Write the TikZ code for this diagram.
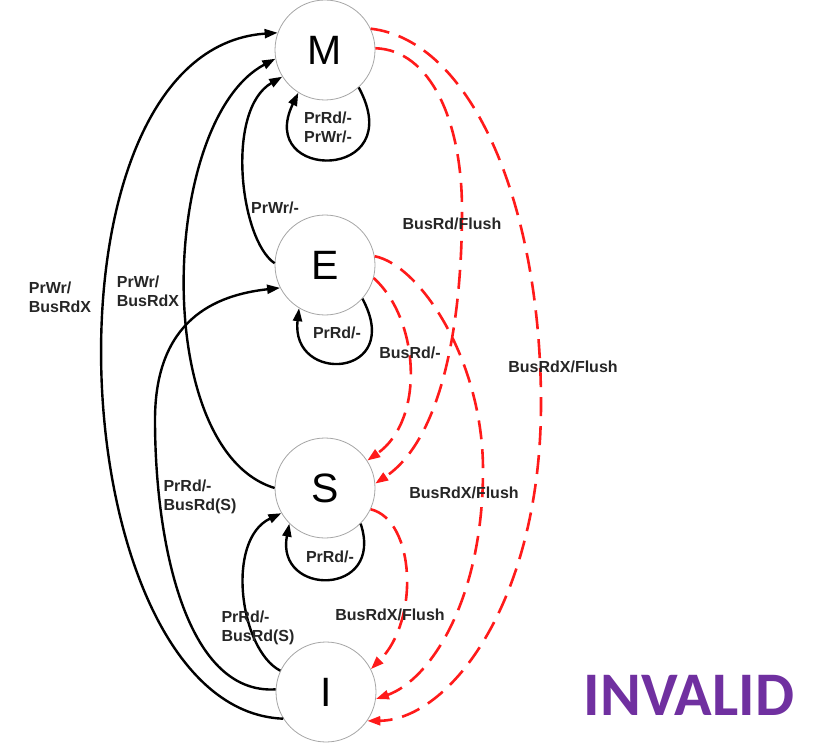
\documentclass[tikz,border=0pt]{standalone}
\usepackage{fontspec}
\setmainfont{Liberation Sans}
\newfontfamily\invfont{Carlito}
\usetikzlibrary{arrows.meta}
\definecolor{invpurple}{HTML}{7030A0}
\definecolor{edgered}{HTML}{FF1A1A}

\begin{document}
\begin{tikzpicture}[x=1pt,y=-1pt,
  state/.style={circle,draw=black!35,line width=0.8pt,fill=white,minimum size=100pt,inner sep=0pt,
    font=\fontsize{41}{41}\selectfont},
  trans/.style={line width=2.4pt,black,-{Triangle[length=13pt,width=9pt]}},
  snoop/.style={line width=2.6pt,edgered,dash pattern=on 19pt off 10pt,-{Triangle[length=13pt,width=9pt]}},
  lbl/.style={font=\fontsize{16}{19}\selectfont\bfseries,text=black!85,align=center,inner sep=0pt}
]
\useasboundingbox (0,0) rectangle (821,743);

% MESI states
\node[state] (M) at (325,50) {M};
\node[state] (E) at (325,265) {E};
\node[state] (S) at (325,488) {S};
\node[state] (I) at (326,692) {I};

% processor-side transitions
\draw[trans] (I.212) .. controls (60,710) and (28,50) .. (M.160);
\draw[trans] (S.180) .. controls (150,450) and (160,120) .. (M.190);
\draw[trans] (E.178) .. controls (240,240) and (225,110) .. (M.212);
\draw[trans] (I.177) .. controls (185,695) and (155,540) .. (155,420) .. controls (155,320) and (215,295) .. (E.207);
\draw[trans] (I.155) .. controls (240,650) and (225,540) .. (S.210);

% self loops
\draw[trans] (M.-48) .. controls (410,182) and (255,182) .. (M.-122);
\draw[trans] (E.-42) .. controls (405,378) and (290,385) .. (E.-121);
\draw[trans] (S.-45) .. controls (385,597) and (275,597) .. (S.-135);

% bus-side (snooped) transitions
\draw[snoop] (M.25) .. controls (470,40) and (540,200) .. (541,400) .. controls (542,600) and (450,720) .. (I.-35);
\draw[snoop] (M.2) .. controls (430,50) and (462,120) .. (462,210) .. controls (462,330) and (440,440) .. (S.5);
\draw[snoop] (E.10) .. controls (420,265) and (483,360) .. (483,470) .. controls (483,600) and (430,680) .. (I.-8);
\draw[snoop] (E.-15) .. controls (420,320) and (425,420) .. (S.33);
\draw[snoop] (S.-25) .. controls (415,520) and (420,620) .. (I.27);

% labels
\node[lbl] (lMloop) at (328,127) {PrRd/-\\PrWr/-};
\node[lbl] (lEloop) at (337,333) {PrRd/-};
\node[lbl] (lSloop) at (330,557) {PrRd/-};
\node[lbl] (lEM) at (275,208) {PrWr/-};
\node[lbl,align=left] (lIM) at (60,297) {PrWr/\\BusRdX};
\node[lbl,align=left] (lSM) at (148,291) {PrWr/\\BusRdX};
\node[lbl,align=left] (lIE) at (200,497) {PrRd/-\\BusRd(S)};
\node[lbl,align=left] (lIS) at (258,628) {PrRd/-\\BusRd(S)};
\node[lbl] (lMS) at (452,224) {BusRd/Flush};
\node[lbl] (lES) at (410,353) {BusRd/-};
\node[lbl] (lMI) at (563,367) {BusRdX/Flush};
\node[lbl] (lEI) at (464,493) {BusRdX/Flush};
\node[lbl] (lSI) at (390,615) {BusRdX/Flush};

\node[inner sep=0pt,text=invpurple,font=\invfont\bfseries\fontsize{62}{62}\selectfont] (inv) at (689,695) {INVALID};
\end{tikzpicture}
\end{document}
